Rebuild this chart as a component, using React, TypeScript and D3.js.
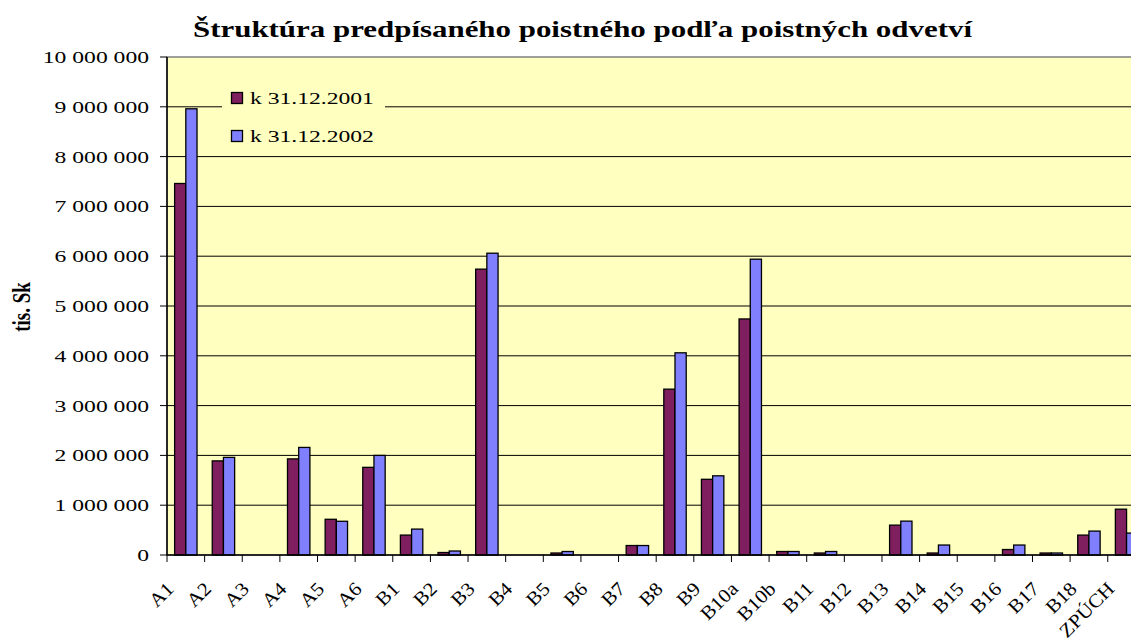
import * as d3 from "d3";
import { useEffect, useRef } from "react";

const categories = [
  "A1", "A2", "A3", "A4", "A5", "A6",
  "B1", "B2", "B3", "B4", "B5", "B6", "B7", "B8", "B9",
  "B10a", "B10b", "B11", "B12", "B13", "B14", "B15", "B16", "B17", "B18",
  "ZPÚCH",
];
const values2001 = [
  7460000, 1890000, 0, 1930000, 717000, 1760000,
  400000, 50000, 5740000, 0, 40000, 0, 190000, 3330000, 1520000,
  4740000, 70000, 40000, 0, 600000, 40000, 0, 110000, 40000, 400000,
  920000,
];
const values2002 = [
  8960000, 1960000, 0, 2160000, 677000, 2000000,
  520000, 80000, 6060000, 0, 70000, 0, 190000, 4060000, 1590000,
  5940000, 70000, 70000, 0, 680000, 200000, 0, 200000, 40000, 480000,
  440000,
];
const seriesNames = ["k 31.12.2001", "k 31.12.2002"];
const yTicks = [0, 1000000, 2000000, 3000000, 4000000, 5000000, 6000000, 7000000, 8000000, 9000000, 10000000];

const colors = ["#7f1f5f", "#8080ff"];
const FONT = "'Liberation Serif', 'Times New Roman', serif";

const App = () => {
  const svgRef = useRef<SVGSVGElement>(null);

  useEffect(() => {
    const svg = d3.select(svgRef.current);
    svg.selectAll("*").remove();

    const left = 167;
    const top = 57;
    const bottom = 555;
    const catW = 37.63;
    const right = left + catW * categories.length;

    // plot background
    svg.append("rect")
      .attr("x", left).attr("y", top)
      .attr("width", right - left).attr("height", bottom - top)
      .attr("fill", "#ffffc0")
      .attr("stroke", "#808080").attr("stroke-width", 1.5);

    const x = d3.scaleBand().domain(categories).range([left, right]).padding(0);
    const y = d3.scaleLinear().domain([0, 10000000]).range([bottom, top]);

    const fmt = (v: number) => d3.format(",")(v).replace(/,/g, " ");

    // gridlines
    svg.append("g")
      .selectAll("line")
      .data(yTicks.slice(1, -1))
      .enter()
      .append("line")
      .attr("x1", left).attr("x2", right)
      .attr("y1", (d) => y(d)).attr("y2", (d) => y(d))
      .attr("stroke", "#000").attr("stroke-width", 1);

    // legend background hides the gridline behind it
    svg.append("rect")
      .attr("x", 222).attr("y", 82).attr("width", 163).attr("height", 68)
      .attr("fill", "#ffffc0");

    // bars
    const barW = 11.2;
    const series = [values2001, values2002];
    series.forEach((vals, si) => {
      svg.append("g")
        .selectAll("rect")
        .data(vals)
        .enter()
        .append("rect")
        .attr("x", (_d, i) => (x(categories[i]) as number) + (catW - 2 * barW) / 2 + si * barW)
        .attr("y", (d) => y(d))
        .attr("width", barW)
        .attr("height", (d) => bottom - y(d))
        .attr("fill", colors[si])
        .attr("stroke", "#000")
        .attr("stroke-width", 1.3)
        .style("display", (d) => (d > 0 ? null : "none"));
    });

    // y axis
    svg.append("line")
      .attr("x1", left).attr("x2", left).attr("y1", top).attr("y2", bottom)
      .attr("stroke", "#000").attr("stroke-width", 1.5);
    const yAxis = svg.append("g");
    yAxis.selectAll("line")
      .data(yTicks)
      .enter()
      .append("line")
      .attr("x1", 160).attr("x2", left)
      .attr("y1", (d) => y(d)).attr("y2", (d) => y(d))
      .attr("stroke", "#000");
    yAxis.selectAll("text")
      .data(yTicks)
      .enter()
      .append("text")
      .attr("transform", (d) => `translate(149,${y(d) + 6}) scale(1.35,1)`)
      .attr("text-anchor", "end")
      .attr("font-family", FONT)
      .attr("font-size", 17.5)
      .text((d) => fmt(d));

    // x axis
    svg.append("line")
      .attr("x1", left).attr("x2", right).attr("y1", bottom).attr("y2", bottom)
      .attr("stroke", "#000").attr("stroke-width", 1.5);
    const xAxis = svg.append("g");
    xAxis.selectAll("line")
      .data(d3.range(categories.length + 1))
      .enter()
      .append("line")
      .attr("x1", (i) => left + i * catW).attr("x2", (i) => left + i * catW)
      .attr("y1", bottom).attr("y2", bottom + 7)
      .attr("stroke", "#000");
    xAxis.selectAll("text")
      .data(categories)
      .enter()
      .append("text")
      .attr("transform", (d) => {
        const cx = (x(d) as number) + catW / 2;
        return `translate(${cx - 11},${590}) rotate(-45) scale(1.2,1.1)`;
      })
      .attr("text-anchor", "end")
      .attr("font-family", FONT)
      .attr("font-size", 17.5)
      .text((d) => d);

    // y title
    svg.append("text")
      .attr("transform", "translate(30,307) rotate(-90) scale(1,1.3)")
      .attr("text-anchor", "middle")
      .attr("font-family", FONT)
      .attr("font-weight", "bold")
      .attr("font-size", 19)
      .text("tis. Sk");

    // title
    svg.append("text")
      .attr("x", 193).attr("y", 37)
      .attr("textLength", 779)
      .attr("lengthAdjust", "spacingAndGlyphs")
      .attr("font-family", FONT)
      .attr("font-weight", "bold")
      .attr("font-size", 24)
      .text("Štruktúra predpísaného poistného podľa poistných odvetví");

    // legend
    const legend = svg.append("g");
    seriesNames.forEach((name, i) => {
      legend.append("rect")
        .attr("x", 231.5).attr("y", 92.5 + i * 38)
        .attr("width", 11).attr("height", 11)
        .attr("fill", colors[i]).attr("stroke", "#000").attr("stroke-width", 1.3);
      legend.append("text")
        .attr("transform", `translate(250,${104 + i * 38}) scale(1.35,1)`)
        .attr("font-family", FONT)
        .attr("font-size", 17.5)
        .text(name);
    });
  }, []);

  return (
    <svg
      ref={svgRef}
      width={1131}
      height={641}
      style={{ position: "absolute", left: 0, top: 0, background: "#fff" }}
    />
  );
};

export default App;
